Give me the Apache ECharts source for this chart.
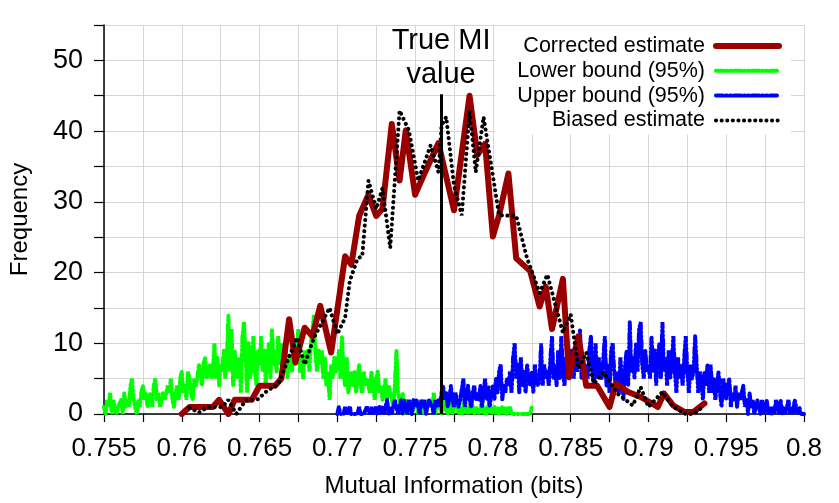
<!DOCTYPE html>
<html>
<head>
<meta charset="utf-8">
<script src="https://cdn.jsdelivr.net/npm/echarts@6/dist/echarts.min.js"></script>
<style>html,body{margin:0;padding:0;background:#fff}#c{width:839px;height:503px}</style>
</head>
<body>
<div id="c"></div>
<script>
// ---- data ----
const seriesNames = ['Corrected estimate', 'Lower bound (95%)', 'Upper bound (95%)', 'Biased estimate'];
const trueMI = 0.77667;
const trueMITop = 45.2;

// corrected estimate: [x, frequency]
const correctedX = [0.7600,0.7605,0.7615,0.7620,0.7624,0.7630,0.7634,0.7645,0.7650,0.7660,0.7664,0.7669,0.7673,0.7679,0.7684,0.7689,0.7696,0.7705,0.7709,0.7714,0.7720,0.7725,0.7729,0.7735,0.7740,0.7744,0.7750,0.7756,0.7765,0.7775,0.7785,0.7790,0.7795,0.7800,0.7804,0.7810,0.7815,0.7824,0.7830,0.7834,0.7838,0.7845,0.7849,0.7855,0.7860,0.7867,0.7875,0.7879,0.7887,0.7895,0.7906,0.7910,0.7916,0.7923,0.7929,0.7936];
const correctedY = [0,1,1,1,2,0,2,2,4,4,5,13.4,7.3,12.2,11,15.3,8.7,22.3,21.1,28,31,28,29,41,33,40.1,31,34,38.3,28.8,45,36.6,38.2,25.1,28.1,34,22,20.2,15.2,18,12,19.1,5.2,11,4,4,1,4.3,3.1,2.4,1,2.9,1.2,0.3,0.3,1.5];

// biased estimate: [x, frequency]
const biasedX = [0.7605,0.7611,0.7617,0.7626,0.7630,0.7635,0.7641,0.7649,0.7655,0.7662,0.7668,0.7674,0.7679,0.7685,0.7695,0.7700,0.7705,0.7708,0.7713,0.7716,0.7720,0.7725,0.7729,0.7734,0.7740,0.7746,0.7752,0.7760,0.7765,0.7767,0.7770,0.7775,0.7780,0.7785,0.7789,0.7794,0.7804,0.7815,0.7822,0.7830,0.7835,0.7845,0.7850,0.7855,0.7860,0.7865,0.7871,0.7880,0.7890,0.7895,0.7900,0.7909,0.7916,0.7924,0.7929,0.7936];
const biasedY = [0.9,0.2,1,1,2,0,1.9,2.1,3.3,4.2,7.5,10.8,7,10.8,15,11.3,13.6,18.8,22,22.3,33,29,31.9,23.5,42.9,40.1,33,38,34.2,40.8,42,32.3,28.1,42.9,34.2,42,28.1,28,22,17.1,19.7,11.5,14.1,6.4,8.7,4.3,5.9,2.9,1.2,3.8,1,3.1,1,0,0,1.2];

// lower / upper bound: sampled every 0.0001
const boundStep = 0.0001;
const lowerStart = 0.755;
const lowerValues = [
  1,0,2,1,3,0,2,1,0,1,
  1,2,0,3,1,2,1,4,5,2,
  1,0,2,1,3,4,2,3,1,2,
  3,1,4,5,2,3,1,2,3,2,
  2,4,3,5,2,1,3,4,2,5,
  6,3,4,2,6,5,3,2,5,4,
  5,7,6,4,7,8,5,6,7,5,
  6,10,5,8,4,7,6,9,5,8,
  14,6,12,4,9,7,5,8,3,11,
  13,8,3,10,5,7,11,6,4,9,
  7,11,6,9,4,8,10,5,12,7,
  9,6,11,7,10,6,8,9,5,8,
  8,6,9,7,10,12,6,8,5,9,
  7,9,6,10,12,14,8,6,9,7,
  9,5,8,4,6,2,7,5,8,6,
  7,9,5,11,6,4,8,3,5,6,
  4,6,3,5,7,4,3,6,4,5,
  5,3,6,4,2,5,6,3,4,2,
  3,5,2,4,3,2,1,4,9,3,
  2,1,3,1,0,2,1,2,0,1,
  1,2,0,1,2,1,0,2,1,1,
  2,1,3,0,1,2,1,0,2,1,
  1,0,2,1,0,1,2,1,0,1,
  0,1,2,0,1,0,2,1,0,1,
  1,0,1,2,0,1,0,1,2,0,
  0,1,0,1,0,0,1,0,1,0,
  0,1,0,0,0,0,0,0,0,0,
  0,0,0,0,0,1
];
const upperStart = 0.770;
const upperValues = [
  0,1,0,0,0,1,0,0,1,0,
  0,0,0,0,1,0,0,0,0,1,
  1,0,1,0,0,1,0,1,0,1,
  0,1,2,0,1,0,1,2,1,0,
  1,2,0,2,1,0,2,1,0,2,
  1,2,1,0,2,1,2,0,1,2,
  2,1,0,2,1,2,1,3,4,2,
  3,1,2,4,2,1,3,2,1,2,
  2,5,1,3,4,2,1,3,4,2,
  3,2,4,1,3,5,2,4,1,3,
  4,2,5,3,6,7,2,4,3,5,
  4,6,3,8,10,5,7,3,8,4,
  6,3,7,5,4,6,3,7,5,4,
  5,10,4,7,5,6,4,8,11,5,
  7,4,9,5,11,6,4,8,5,9,
  6,9,5,8,6,7,12,5,8,6,
  7,5,9,11,6,4,10,5,8,6,
  5,8,11,4,7,3,9,10,6,4,
  6,3,8,5,2,7,9,4,13,6,
  8,5,10,6,12,13,7,5,9,6,
  7,5,11,6,9,4,8,10,5,13,
  6,8,4,9,5,7,11,6,3,8,
  5,7,4,8,11,6,3,7,5,6,
  11,7,3,6,5,2,6,4,7,3,
  7,3,5,2,4,6,3,1,5,4,
  2,4,5,1,3,2,4,1,3,2,
  3,4,1,2,0,3,1,2,0,1,
  2,1,0,2,0,1,2,0,1,0,
  1,0,2,1,0,2,0,1,0,1,
  2,0,1,0,2,1,0,1,0,0,
  0
];

// ---- build ----
const pairs = (xs, ys) => xs.map((x, i) => [x, ys[i]]);
const sampled = (start, vals) => vals.map((v, i) => [+(start + i * boundStep).toFixed(4), v]);

const FONT = 'Liberation Sans, Arial, sans-serif';
const chart = echarts.init(document.getElementById('c'), null, {renderer: 'canvas'});
chart.setOption({
  animation: false,
  backgroundColor: '#fff',
  textStyle: {fontFamily: FONT, color: '#000'},
  grid: {left: 102, right: 35, top: 25, bottom: 86, containLabel: false},
  legend: {
    data: seriesNames,
    orient: 'vertical',
    align: 'right',
    right: 48,
    top: 26,
    padding: [9, 9, 3, 22],
    backgroundColor: '#fff',
    itemWidth: 63,
    itemHeight: 12,
    itemGap: 2.8,
    itemStyle: {opacity: 0},
    lineStyle: {width: 'inherit'},
    textStyle: {fontFamily: FONT, fontSize: 21.5, color: '#000', lineHeight: 21.5, padding: [0, 6, 0, 0]},
    selectedMode: false
  },
  xAxis: {
    type: 'value', min: 0.755, max: 0.8, interval: 0.0025,
    name: 'Mutual Information (bits)', nameLocation: 'middle', nameGap: 60,
    nameTextStyle: {fontFamily: FONT, fontSize: 24, color: '#000'},
    axisLine: {onZero: false, lineStyle: {color: '#000', width: 1.5}},
    axisTick: {show: true, length: 8, lineStyle: {color: '#000', width: 1.2}},
    axisLabel: {
      fontFamily: FONT, fontSize: 26, color: '#000', margin: 22,
      formatter: v => (Math.round(v * 400) % 2 === 0 ? String(parseFloat(v.toFixed(4))) : '')
    },
    splitLine: {show: true, lineStyle: {color: '#d6d6d6', width: 1}}
  },
  yAxis: {
    type: 'value', min: 0, max: 55, interval: 5,
    name: 'Frequency', nameLocation: 'middle', nameGap: 72,
    nameTextStyle: {fontFamily: FONT, fontSize: 24, color: '#000'},
    axisLine: {show: true, lineStyle: {color: '#000', width: 1.5}},
    axisTick: {show: true, length: 10, lineStyle: {color: '#000', width: 1.2}},
    axisLabel: {
      fontFamily: FONT, fontSize: 27, color: '#000', margin: 21,
      formatter: v => (v % 10 === 0 ? String(v) : '')
    },
    splitLine: {show: true, lineStyle: {color: '#d6d6d6', width: 1}}
  },
  series: [
    {
      name: seriesNames[1], type: 'line', data: sampled(lowerStart, lowerValues),
      symbol: 'none', z: 2, color: '#00ff00',
      lineStyle: {color: '#00ff00', width: 4, type: [7, 3, 1, 3, 1, 3], cap: 'round'}
    },
    {
      name: seriesNames[2], type: 'line', data: sampled(upperStart, upperValues),
      symbol: 'none', z: 2, color: '#0000ff',
      lineStyle: {color: '#0000ff', width: 4, type: [7, 3, 1, 3, 1, 3], cap: 'round'}
    },
    {
      name: 'trueMI', type: 'line', data: [], z: 3,
      markLine: {
        silent: true, symbol: ['none', 'none'], animation: false,
        lineStyle: {color: '#000', width: 3, type: 'solid'},
        label: {show: true, position: 'end', formatter: 'True MI\nvalue', fontFamily: FONT, fontSize: 29, lineHeight: 34, color: '#000', distance: 2},
        data: [[{coord: [trueMI, 0]}, {coord: [trueMI, trueMITop]}]]
      }
    },
    {
      name: seriesNames[0], type: 'line', data: pairs(correctedX, correctedY),
      symbol: 'none', z: 4, color: '#990000',
      lineStyle: {color: '#990000', width: 6, cap: 'round', join: 'round'}
    },
    {
      name: seriesNames[3], type: 'line', data: pairs(biasedX, biasedY),
      symbol: 'none', z: 5, color: '#000',
      lineStyle: {color: '#000', width: 4, type: [0.1, 5.5], cap: 'round'}
    }
  ]
});
</script>
</body>
</html>
